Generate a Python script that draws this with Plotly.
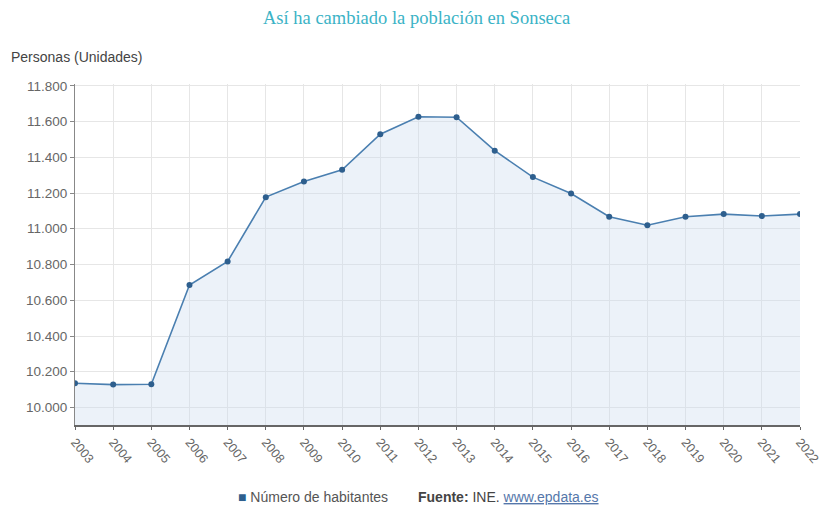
import plotly.graph_objects as go

years = [str(y) for y in range(2003, 2023)]
habitantes = [10136, 10128, 10130, 10685, 10817, 11177, 11264, 11330, 11529, 11627,
              11624, 11437, 11289, 11197, 11067, 11020, 11067, 11082, 11071, 11082]
y_ticks = [10000, 10200, 10400, 10600, 10800, 11000, 11200, 11400, 11600, 11800]

title_text = "Así ha cambiado la población en Sonseca"
y_title = "Personas (Unidades)"
series_name = "Número de habitantes"

fig = go.Figure()
fig.add_trace(go.Scatter(
    x=list(range(len(years))), y=habitantes, mode="lines+markers",
    name=series_name,
    line=dict(color="#4a7fb0", width=1.6),
    marker=dict(color="#2e5f8e", size=6),
    fill="tozeroy", fillcolor="rgba(200,218,238,0.35)",
    showlegend=False,
))

fig.update_layout(
    width=824, height=506,
    paper_bgcolor="white", plot_bgcolor="white",
    margin=dict(l=75, r=24, t=84, b=81),
    separators=",.",
    font=dict(family="Liberation Sans, Arial", size=13, color="#555"),
)
fig.update_xaxes(
    range=[0, len(years) - 1], tickmode="array",
    tickvals=list(range(len(years))), ticktext=years,
    tickangle=50, showgrid=True, gridcolor="#e6e6e6", gridwidth=1,
    showline=True, linecolor="#666", linewidth=2,
    ticks="outside", ticklen=3, tickcolor="#666", automargin=False,
    tickfont=dict(size=12.5, color="#666"), zeroline=False,
)
fig.update_yaxes(
    range=[9902, 11810], tickmode="array", tickvals=y_ticks,
    tickformat=",d", showgrid=True, gridcolor="#e6e6e6",
    showline=True, linecolor="#888", linewidth=1, automargin=False,
    ticks="outside", ticklen=4, tickcolor="#888",
    tickfont=dict(size=13.5, color="#666"), zeroline=False,
)

fig.add_annotation(text=title_text, xref="paper", yref="paper",
                   x=(416 - 75) / 725, xanchor="center", y=1.0, yanchor="middle", yshift=66,
                   showarrow=False,
                   font=dict(family="Liberation Serif, Times New Roman", size=18.5, color="#3bb3c6"))
fig.add_annotation(text=y_title, xref="paper", yref="paper",
                   x=(9 - 75) / 725, xanchor="left", y=1.0, yanchor="middle", yshift=27,
                   showarrow=False, font=dict(size=14, color="#444"))
fig.add_annotation(text="<span style='color:#2e5f8e'>■</span> " + series_name,
                   xref="paper", yref="paper", x=(236 - 75) / 725, xanchor="left",
                   y=0, yanchor="middle", yshift=-72, showarrow=False,
                   font=dict(size=14, color="#555"))
fig.add_annotation(text="<b>Fuente:</b> INE. <span style='color:#5577aa'><u>www.epdata.es</u></span>",
                   xref="paper", yref="paper", x=(416 - 75) / 725, xanchor="left",
                   y=0, yanchor="middle", yshift=-72, showarrow=False,
                   font=dict(size=14, color="#444"))

fig.write_html("out.html", config={"displayModeBar": False},
               post_script="document.body.style.margin='0';document.body.style.overflow='hidden';")
